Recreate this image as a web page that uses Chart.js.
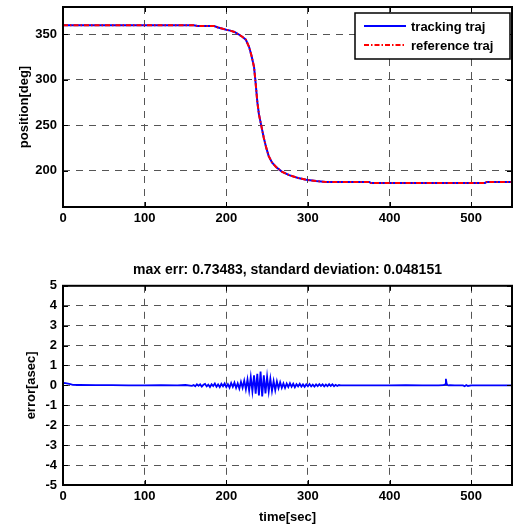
<!DOCTYPE html>
<html><head><meta charset="utf-8">
<script src="https://cdn.jsdelivr.net/npm/chart.js@4.4.0/dist/chart.umd.min.js"></script>
<style>
html,body{margin:0;padding:0;background:#fff;}
#wrap{position:relative;width:513px;height:525px;overflow:hidden;background:#fff}
canvas{position:absolute;left:0}
#cPos{top:0}
#cErr{top:255px}
</style></head><body>
<div id="wrap">
  <canvas id="cPos" width="513" height="228"></canvas>
  <canvas id="cErr" width="513" height="270"></canvas>
</div>
<script>
/* two stacked MATLAB-style panels: position trajectory + tracking error */

const X_TICKS = [0, 100, 200, 300, 400, 500];
const POS_TICKS = [200, 250, 300, 350];
const ERR_TICKS = [-5, -4, -3, -2, -1, 0, 1, 2, 3, 4, 5];

// position trajectory (deg) vs time (sec)
const posTime = [0, 160, 165, 185, 190, 200, 205, 210, 215, 220, 224, 228, 231, 234, 236, 238, 240, 243, 246, 249,
                 252, 256, 261, 268, 277, 288, 298, 310, 322, 375, 377, 517, 519, 550];
const trackPos = [360, 360, 359, 359, 357.5, 355, 354, 352.5, 350, 347, 344, 336, 326, 314, 296, 276, 262, 249, 236, 225,
                  216, 209, 204, 199, 195, 192, 190, 188.5, 187.5, 187.5, 186.5, 186.5, 187.5, 187.5];
const refPos = [360, 360, 359, 359, 357.5, 355, 354, 352.5, 350, 347, 344, 336, 326, 314, 296, 276, 262, 249, 236, 225,
                216, 209, 204, 199, 195, 192, 190, 188.5, 187.5, 187.5, 186.5, 186.5, 187.5, 187.5];

// tracking error (asec) vs time (sec)
const errTime = [0, 3, 6, 9, 12, 20, 40, 60, 80, 100, 120, 140, 150, 158,
  160, 162, 164, 166, 168, 170, 172, 174, 176, 178, 180, 182, 184, 186, 188, 190, 192, 194, 196, 198,
  200, 202, 204, 206, 208, 210, 212, 214, 216, 218, 220, 222, 224, 226, 228, 230, 232, 234, 236, 238,
  240, 242, 244, 246, 248, 250, 252, 254, 256, 258, 260, 262, 264, 266, 268, 270, 272, 274, 276, 278,
  280, 282, 284, 286, 288, 290, 292, 294, 296, 298, 300, 302, 304, 306, 308, 310, 312, 314, 316, 318,
  320, 322, 324, 326, 328, 330, 332, 334, 336, 338, 340,
  345, 360, 380, 400, 420, 440, 460, 466, 468, 469, 470, 471, 472, 474, 480, 490, 492, 494, 496, 500, 510, 530, 550];
const errVal = [0.12, 0.11, 0.09, 0.06, 0.03, 0.02, 0.01, 0.01, 0.0, 0.0, 0.01, 0.0, 0.02, -0.02,
  0.02, -0.04, 0.06, -0.02, 0.05, -0.06, 0.03, 0.07, -0.05, 0.04, -0.08, 0.06, -0.03, 0.09, -0.07, 0.05, -0.09, 0.08, -0.04, 0.10,
  -0.08, 0.06, -0.11, 0.12, -0.07, 0.14, -0.13, 0.10, -0.16, 0.18, -0.12, 0.24, -0.20, 0.30, -0.26, 0.42, -0.30, 0.50, -0.42, 0.58,
  -0.50, 0.70, -0.55, 0.50, -0.40, 0.44, -0.30, 0.34, -0.28, 0.22, -0.24, 0.20, -0.14, 0.16, -0.12, 0.10, -0.13, 0.09, -0.08, 0.11,
  -0.07, 0.08, -0.09, 0.06, -0.05, 0.08, -0.06, 0.05, -0.07, 0.06, -0.04, 0.07, -0.05, 0.04, -0.06, 0.05, -0.04, 0.06, -0.03, 0.05,
  -0.05, 0.04, -0.04, 0.06, -0.03, 0.05, -0.04, 0.03, -0.03, 0.02, 0.0,
  0.0, 0.0, 0.0, 0.0, 0.01, 0.0, 0.0, 0.01, 0.05, 0.33, 0.08, 0.02, 0.0, 0.01, 0.0, 0.0, -0.04, 0.02, -0.03, 0.0, 0.0, 0.0, 0.0];

const FONT = '"Liberation Sans", Arial, Helvetica, sans-serif';
Chart.defaults.font.family = FONT;
Chart.defaults.font.size = 13;
Chart.defaults.font.weight = "bold";
Chart.defaults.color = "#000";

const pts = (xs, ys) => xs.map((x, i) => ({ x, y: ys[i] }));
const setTicks = vals => s => { s.ticks = vals.map(v => ({ value: v })); };

/* frame + inward tick marks, MATLAB style */
const frame = {
  id: "frame",
  afterDatasetsDraw(chart) {
    const { ctx, chartArea: a, scales } = chart;
    ctx.save();
    ctx.strokeStyle = "#000";
    ctx.lineWidth = 1;
    ctx.beginPath();
    for (const t of scales.x.ticks) {
      const px = Math.round(scales.x.getPixelForValue(t.value)) + 0.5;
      ctx.moveTo(px, a.bottom); ctx.lineTo(px, a.bottom - 5);
      ctx.moveTo(px, a.top); ctx.lineTo(px, a.top + 5);
    }
    for (const t of scales.y.ticks) {
      const py = Math.round(scales.y.getPixelForValue(t.value)) + 0.5;
      ctx.moveTo(a.left, py); ctx.lineTo(a.left + 5, py);
      ctx.moveTo(a.right, py); ctx.lineTo(a.right - 5, py);
    }
    ctx.stroke();
    ctx.lineWidth = 2;
    ctx.strokeRect(a.left, a.top, a.right - a.left, a.bottom - a.top);
    ctx.restore();
  }
};

/* legend box in the upper right corner of the top panel */
const legendBox = {
  id: "legendBox",
  afterDraw(chart) {
    const { ctx, chartArea: a } = chart;
    const w = 155, h = 46, x0 = a.right - w - 2, y0 = a.top + 6;
    ctx.save();
    ctx.fillStyle = "#fff";
    ctx.fillRect(x0, y0, w, h);
    ctx.strokeStyle = "#000"; ctx.lineWidth = 1.5;
    ctx.strokeRect(x0, y0, w, h);
    const rows = [chart.data.datasets[1], chart.data.datasets[0]];
    rows.forEach((ds, i) => {
      const y = y0 + 13 + i * 19;
      ctx.strokeStyle = ds.borderColor; ctx.lineWidth = 2;
      ctx.setLineDash(ds.borderDash || []);
      ctx.beginPath(); ctx.moveTo(x0 + 9, y); ctx.lineTo(x0 + 51, y); ctx.stroke();
      ctx.setLineDash([]);
      ctx.fillStyle = "#000"; ctx.font = "bold 13px " + FONT;
      ctx.textBaseline = "middle"; ctx.textAlign = "left";
      ctx.fillText(ds.label, x0 + 56, y + 1);
    });
    ctx.restore();
  }
};

const xScale = extra => Object.assign({
  type: "linear", min: 0, max: 550,
  afterBuildTicks: setTicks(X_TICKS),
  grid: { color: "#555", lineWidth: 1, drawTicks: false },
  border: { display: false, dash: [7, 6] },
  ticks: { padding: 4, maxRotation: 0, autoSkip: false }
}, extra);
const yScale = extra => Object.assign({
  type: "linear",
  grid: { color: "#555", lineWidth: 1, drawTicks: false },
  border: { display: false, dash: [7, 6] },
  ticks: { padding: 6, autoSkip: false },
  afterFit: s => { s.width = 63; s.paddingTop = 0; s.paddingBottom = 0; }
}, extra);

const common = {
  responsive: false, animation: false, devicePixelRatio: 1,
  elements: { point: { radius: 0 } },
  plugins: { legend: { display: false }, tooltip: { enabled: false } }
};

new Chart(document.getElementById("cPos"), {
  type: "line",
  data: { datasets: [
    { label: "reference traj", data: pts(posTime, refPos), borderColor: "#ff0000", borderWidth: 2, borderDash: [5, 2, 1.5, 2], tension: 0 },
    { label: "tracking traj", data: pts(posTime, trackPos), borderColor: "#0000ff", borderWidth: 2, tension: 0 }
  ]},
  options: Object.assign({}, common, {
    layout: { padding: { top: 7, right: 1 } },
    scales: {
      x: xScale({ afterFit: s => { s.height = 21; } }),
      y: yScale({ min: 160, max: 380, afterBuildTicks: setTicks(POS_TICKS),
                  title: { display: true, text: "position[deg]", padding: { top: 17, bottom: 0 } } })
    }
  }),
  plugins: [frame, legendBox]
});

new Chart(document.getElementById("cErr"), {
  type: "line",
  data: { datasets: [
    { label: "error", data: pts(errTime, errVal), borderColor: "#0000ff", borderWidth: 1.8, tension: 0 }
  ]},
  options: Object.assign({}, common, {
    layout: { padding: { top: 0, right: 1 } },
    plugins: { legend: { display: false }, tooltip: { enabled: false },
      title: { display: true, fullSize: false, text: "max err: 0.73483, standard deviation: 0.048151", color: "#000",
               font: { size: 14, weight: "bold" }, padding: { top: 7, bottom: 7 } } },
    scales: {
      x: xScale({ afterFit: s => { s.height = 40; },
                  title: { display: true, text: "time[sec]", padding: { top: 0, bottom: 0 } } }),
      y: yScale({ min: -5, max: 5, afterBuildTicks: setTicks(ERR_TICKS),
                  title: { display: true, text: "error[asec]", padding: { top: 24, bottom: 0 } } })
    }
  }),
  plugins: [frame]
});
</script>
</body></html>
